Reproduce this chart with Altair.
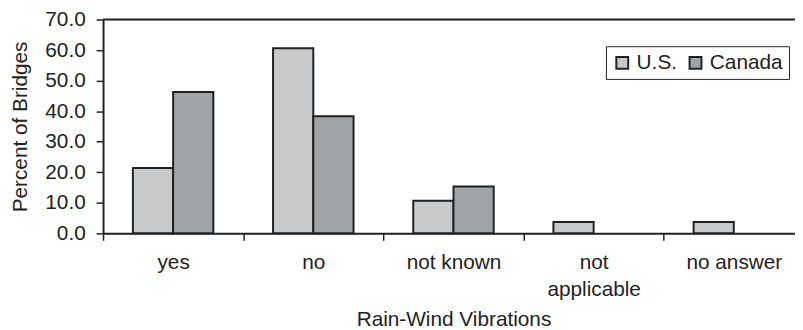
import altair as alt
import pandas as pd

categories = ["yes", "no", "not known", "not applicable", "no answer"]
countries = ["U.S.", "Canada"]
us_values = [21.4, 60.6, 10.7, 3.7, 3.7]
canada_values = [46.3, 38.3, 15.3, None, None]
y_ticks = [0, 10, 20, 30, 40, 50, 60, 70]

rows = []
for c, u, k in zip(categories, us_values, canada_values):
    if u is not None:
        rows.append({"category": c, "country": "U.S.", "value": u})
    if k is not None:
        rows.append({"category": c, "country": "Canada", "value": k})
df = pd.DataFrame(rows)

FONT = "Liberation Sans"
DARK = "#222222"
FS = 21
STEP = 708 / 5

bars = alt.Chart(df).mark_bar(stroke=DARK, strokeWidth=2, opacity=1).encode(
    x=alt.X(
        "category:N",
        sort=categories,
        scale=alt.Scale(range=[0, 708], paddingInner=0.426, paddingOuter=0.213),
        axis=alt.Axis(
            title="Rain-Wind Vibrations",
            labelAngle=0,
            bandPosition=0.5,
            tickOffset=-STEP / 2,
            labelOffset=STEP / 2,
            tickSize=7,
            tickColor=DARK,
            tickWidth=1.5,
            domainColor=DARK,
            domainWidth=2,
            labelPadding=12,
            labelFontSize=FS,
            labelColor=DARK,
            labelFont=FONT,
            labelLineHeight=27,
            labelExpr="datum.value == 'not applicable' ? ['not', 'applicable'] : datum.value",
            titleFontSize=FS,
            titleFontWeight="normal",
            titleColor=DARK,
            titleFont=FONT,
            titleX=354,
            titleY=93,
            titleBaseline="alphabetic",
        ),
    ),
    xOffset=alt.XOffset("country:N", sort=countries),
    y=alt.Y(
        "value:Q",
        scale=alt.Scale(domain=[0, 70], nice=False),
        axis=alt.Axis(
            title="Percent of Bridges",
            values=y_ticks,
            format=".1f",
            grid=False,
            tickSize=7,
            tickColor=DARK,
            tickWidth=1.5,
            domainColor=DARK,
            domainWidth=2,
            labelPadding=11,
            labelFontSize=FS,
            labelColor=DARK,
            labelFont=FONT,
            titleFontSize=FS,
            titleFontWeight="normal",
            titleColor=DARK,
            titleFont=FONT,
            titleX=-73,
            titleY=108,
        ),
    ),
    color=alt.Color(
        "country:N",
        sort=countries,
        scale=alt.Scale(domain=countries, range=["#c8c9cb", "#a1a4a7"]),
        legend=alt.Legend(
            title=None,
            orient="none",
            legendX=508,
            legendY=27,
            direction="horizontal",
            strokeColor=DARK,
            padding=6,
            labelFontSize=FS,
            labelFont=FONT,
            labelColor=DARK,
            symbolType="square",
            symbolSize=144,
            symbolStrokeColor=DARK,
            symbolStrokeWidth=2,
            symbolOpacity=1,
            columnPadding=8,
            labelOffset=4,
        ),
    ),
)

top_line = alt.Chart(pd.DataFrame({"a": [0]})).mark_rule(color=DARK, strokeWidth=2).encode(
    x=alt.value(0), x2=alt.value(720), y=alt.value(0)
)

chart = alt.layer(bars, top_line).properties(
    width=699,
    height=216,
    autosize=alt.AutoSizeParams(type="none"),
    padding={"left": 96, "top": 10, "right": 0, "bottom": 96},
).configure_view(stroke=None).configure(font=FONT)

chart.save("out.html", embed_options={"renderer": "svg", "actions": False})
